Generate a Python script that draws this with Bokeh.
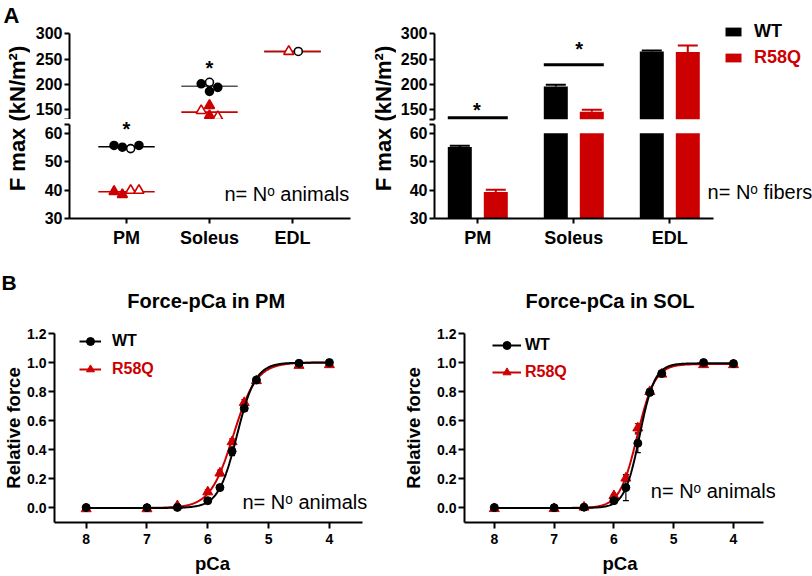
import numpy as np
from bokeh.plotting import figure
from bokeh.layouts import row, column
from bokeh.models import (Range1d, Label, Legend, LegendItem, Whisker, ColumnDataSource,
                          FixedTicker, TeeHead, PrintfTickFormatter)
from bokeh.embed import file_html
from bokeh.resources import INLINE

FONT = "Liberation Sans"
RED = "#cc0000"
BLACK = "#000000"
GREY = "#555555"

# ---------------- data ----------------
muscles = ["PM", "Soleus", "EDL"]

# Panel A left: F max per animal (kN/m^2); open = open symbol
pm_wt_animals = [55.7, 55.1, 54.6, 55.7]
pm_wt_open = [0, 0, 1, 0]
pm_r58q_animals = [39.5, 38.4, 39.9, 39.9]
pm_r58q_open = [0, 0, 1, 1]
sol_wt_animals = [201, 204, 186, 194]
sol_wt_open = [0, 1, 0, 0]
sol_r58q_animals = [148, 158, 138, 136]
sol_r58q_open = [1, 0, 0, 1]
edl_wt_animals = [265]
edl_wt_open = [1]
edl_r58q_animals = [265]
edl_r58q_open = [1]

# Panel A right: F max per fibre, mean and SEM
wt_fiber_mean = [55.2, 195.6, 265.0]
wt_fiber_sem = [0.4, 3.5, 2.0]
r58q_fiber_mean = [39.3, 145.5, 264.0]
r58q_fiber_sem = [0.8, 4.0, 13.0]
sig_bracket_level = [134.0, 238.6]   # PM, Soleus

# Panel B: force-pCa
pca = [8.0, 7.0, 6.5, 6.0, 5.8, 5.6, 5.4, 5.2, 4.5, 4.0]
pm_wt_force = [0.003, 0.002, 0.004, 0.05, 0.14, 0.39, 0.685, 0.88, 0.995, 1.0]
pm_wt_sem = [0.004, 0.004, 0.004, 0.01, 0.015, 0.03, 0.02, 0.01, 0.004, 0.004]
pm_r58q_force = [-0.006, -0.006, 0.015, 0.11, 0.24, 0.455, 0.725, 0.875, 0.98, 0.985]
pm_r58q_sem = [0.004, 0.004, 0.006, 0.015, 0.02, 0.02, 0.02, 0.01, 0.004, 0.004]
sol_wt_force = [0.003, 0.002, 0.005, 0.05, 0.14, 0.445, 0.795, 0.925, 1.0, 0.993]
sol_wt_sem = [0.004, 0.004, 0.004, 0.01, 0.09, 0.065, 0.02, 0.01, 0.004, 0.004]
sol_r58q_force = [-0.005, -0.005, 0.005, 0.084, 0.205, 0.55, 0.80, 0.92, 0.985, 0.985]
sol_r58q_sem = [0.004, 0.004, 0.004, 0.01, 0.02, 0.03, 0.02, 0.01, 0.004, 0.004]

# Hill fit parameters: (pCa50, nH, max)
pm_wt_fit = (5.52, 2.84, 1.0)
pm_r58q_fit = (5.58, 2.28, 1.0)
sol_wt_fit = (5.57, 3.45, 0.995)
sol_r58q_fit = (5.61, 2.95, 0.99)

# ---------------- layout constants ----------------
JIT = 0.1
pm_slots = [-1.5, -0.5, 0.5, 1.5]
sol_slots = [-1, 0, 0, 1]
edl_wt_slots = [0.7]
edl_r58q_slots = [-0.45]
MEAN_HALF = 0.34
BAR_W = 0.25
BAR_OFF = 0.1875
UPPER_START = 131.0
LOWER_END = 60.0
LOWER_AXIS_END = 63.0
UP_RANGE_L = (130.3, 330.3)
LO_RANGE_L = (30.0, 64.84)
UP_RANGE_R = (122.4, 330.3)
LO_RANGE_R = (30.0, 63.45)


def base_fig(w, h, xr, yr, ml, mr, mt, mb, xaxis=True, yaxis=True):
    p = figure(width=w, height=h, x_range=xr, y_range=yr, output_backend="svg",
               toolbar_location=None,
               x_axis_type="linear" if xaxis else None,
               y_axis_type="linear" if yaxis else None,
               min_border_left=ml, min_border_right=mr, min_border_top=mt, min_border_bottom=mb)
    p.xgrid.visible = False
    p.ygrid.visible = False
    p.outline_line_color = None
    for ax in list(p.xaxis) + list(p.yaxis):
        ax.axis_line_width = 2
        ax.axis_line_color = BLACK
        ax.major_tick_line_width = 2
        ax.major_tick_line_color = BLACK
        ax.major_tick_out = 5
        ax.major_tick_in = 0
        ax.minor_tick_out = 0
        ax.minor_tick_in = 0
        ax.major_label_text_font = FONT
        ax.major_label_text_font_style = "bold"
        ax.major_label_text_color = BLACK
        ax.axis_label_text_font = FONT
        ax.axis_label_text_font_style = "bold"
        ax.axis_label_text_color = BLACK
        ax.major_label_standoff = 2
    return p


def label_fig(w, h):
    p = figure(width=w, height=h, x_range=Range1d(0, w), y_range=Range1d(h, 0),
               x_axis_type=None, y_axis_type=None, min_border=0,
               toolbar_location=None, output_backend="svg")
    p.outline_line_color = None
    return p


def style_a_yaxis(p, ticks, bounds, blank):
    ax = p.yaxis[0]
    ax.ticker = FixedTicker(ticks=ticks)
    ax.bounds = bounds
    ax.major_label_overrides = {blank: " "}
    ax.major_label_text_font_size = "16px"


def style_a_xaxis(p):
    ax = p.xaxis[0]
    ax.ticker = FixedTicker(ticks=[1, 2, 3])
    ax.major_label_overrides = {i + 1: m for i, m in enumerate(muscles)}
    ax.major_label_text_font_size = "18px"
    ax.major_label_standoff = 4


def txt(p, x, y, text, size, color=BLACK, bold=True, align="left", baseline="middle", angle=0):
    p.add_layout(Label(x=x, y=y, text=text, text_font=FONT, text_font_size=size,
                       text_font_style="bold" if bold else "normal", text_color=color,
                       text_align=align, text_baseline=baseline, angle=angle))


# ---------------- Panel A left ----------------
AL_X = Range1d(0.313, 3.699)
AL_up = base_fig(338, 119, AL_X, Range1d(*UP_RANGE_L), 39, 18, 18, 0, xaxis=False)
AL_lo = base_fig(338, 131, AL_X, Range1d(*LO_RANGE_L), 39, 18, 0, 31)
style_a_yaxis(AL_up, [UPPER_START, 150, 200, 250, 300], (UPPER_START, 300), UPPER_START)
style_a_yaxis(AL_lo, [30, 40, 50, 60, LOWER_AXIS_END], (30, LOWER_AXIS_END), LOWER_AXIS_END)
style_a_xaxis(AL_lo)

groups = [
    (1, pm_wt_animals, pm_wt_open, pm_slots, BLACK, "circle", BLACK),
    (2, sol_wt_animals, sol_wt_open, sol_slots, BLACK, "circle", GREY),
    (3, edl_wt_animals, edl_wt_open, edl_wt_slots, BLACK, "circle", BLACK),
    (1, pm_r58q_animals, pm_r58q_open, pm_slots, RED, "triangle", RED),
    (2, sol_r58q_animals, sol_r58q_open, sol_slots, RED, "triangle", RED),
    (3, edl_r58q_animals, edl_r58q_open, edl_r58q_slots, RED, "triangle", RED),
]
for p in (AL_up, AL_lo):
    for idx, vals, opn, slots, col, mk, lcol in groups:
        m = float(np.mean(vals))
        p.segment(x0=[idx - MEAN_HALF], x1=[idx + MEAN_HALF], y0=[m], y1=[m],
                  line_color=lcol, line_width=1.6)
    for idx, vals, opn, slots, col, mk, lcol in groups:
        xs = [idx + s * JIT for s in slots]
        fills = ["white" if o else col for o in opn]
        p.scatter(x=xs, y=vals, marker=mk, size=8 if mk == "circle" else 10,
                  fill_color=fills, line_color=col, line_width=1.6)

txt(AL_lo, 1, 61.6, "*", "20px", align="center")
txt(AL_up, 2, 232.7, "*", "20px", align="center")
txt(AL_lo, 2.18, 38.7, "n= N\u1d52 animals", "20px", bold=False)

# ---------------- Panel A right ----------------
AR_X = Range1d(0.549, 0.549 + 378 / 96)
AR_up = base_fig(416, 123, AR_X, Range1d(*UP_RANGE_R), 38, 0, 18, 0, xaxis=False)
AR_lo = base_fig(416, 127, AR_X, Range1d(*LO_RANGE_R), 38, 0, 0, 31)
style_a_yaxis(AR_up, [UPPER_START, 150, 200, 250, 300], (UPPER_START, 300), UPPER_START)
style_a_yaxis(AR_lo, [30, 40, 50, 60, LOWER_AXIS_END], (30, LOWER_AXIS_END), LOWER_AXIS_END)
style_a_xaxis(AR_lo)
AR_lo.xaxis[0].bounds = (0.549, 0.549 + 279 / 96)

xi = np.arange(1, 4)
wt_m = np.array(wt_fiber_mean); wt_s = np.array(wt_fiber_sem)
mu_m = np.array(r58q_fiber_mean); mu_s = np.array(r58q_fiber_sem)

bar_r = {}
for name, off, mean, sem, col in (("WT", -BAR_OFF, wt_m, wt_s, BLACK), ("R58Q", BAR_OFF, mu_m, mu_s, RED)):
    # lower segment: bars cut at the break
    AR_lo.vbar(x=xi + off, top=np.minimum(mean, LOWER_END), bottom=0, width=BAR_W,
               fill_color=col, line_color=None)
    low = mean < LOWER_END
    AR_lo.add_layout(Whisker(source=ColumnDataSource(dict(b=(xi + off)[low], lo=mean[low], up=(mean + sem)[low])),
                             base="b", lower="lo", upper="up", dimension="height",
                             line_color=col, line_width=2, lower_head=None,
                             upper_head=TeeHead(size=20, line_color=col, line_width=2)))
    hi = mean > UPPER_START
    bar_r[name] = AR_up.vbar(x=(xi + off)[hi], top=mean[hi], bottom=UPPER_START, width=BAR_W,
                             fill_color=col, line_color=None)
    AR_up.add_layout(Whisker(source=ColumnDataSource(dict(b=(xi + off)[hi], lo=mean[hi], up=(mean + sem)[hi])),
                             base="b", lower="lo", upper="up", dimension="height",
                             line_color=col, line_width=2, lower_head=None,
                             upper_head=TeeHead(size=20, line_color=col, line_width=2)))

# significance brackets (PM, Soleus)
half = BAR_OFF + BAR_W / 2
AR_up.segment(x0=xi[:2] - half, x1=xi[:2] + half, y0=sig_bracket_level, y1=sig_bracket_level,
              line_color=BLACK, line_width=3)
txt(AR_up, 0.99, 148.9, "*", "20px", align="center")
txt(AR_up, 2.056, 269.7, "*", "20px", align="center")
txt(AR_lo, 3.393, 39.4, "n= N\u1d52 fibers", "20px", bold=False)

# legend: bottom-left corner of each entry, measured from the frame's bottom-left
for name, col, ybot in (("WT", BLACK, 81.3), ("R58Q", RED, 54.7)):
    lg = Legend(items=[LegendItem(label=name, renderers=[bar_r[name]])], location=(289, ybot),
                label_text_font=FONT, label_text_font_style="bold", label_text_font_size="18px",
                label_text_color=col, glyph_width=20, glyph_height=11, label_height=20,
                label_standoff=11, padding=0, margin=0, spacing=0,
                border_line_color=None, background_fill_alpha=0)
    AR_up.add_layout(lg)

# label columns for panel A
LA = label_fig(30, 250)
txt(LA, 3, 14.5, "A", "22px")
txt(LA, 17, 118, "F max (kN/m\u00b2)", "22px", align="center", angle=np.pi / 2)
LR = label_fig(28, 250)
txt(LR, 15, 118, "F max (kN/m\u00b2)", "22px", align="center", angle=np.pi / 2)

# ---------------- Panel B ----------------
STRIP = label_fig(812, 62)
txt(STRIP, 1, 31.5, "B", "21px")
txt(STRIP, 205.7, 50, "Force-pCa in PM", "20px", align="center")
txt(STRIP, 609.5, 50, "Force-pCa in SOL", "20px", align="center")


def hill(x, fit):
    p50, nh, top = fit
    return top / (1 + 10 ** (nh * (np.asarray(x) - p50)))


def b_panel(w, ml, mr, xr, xbounds, wt, wts, wtfit, mu, mus, mufit, leg_x, leg_y, leg_w, leg_gap, n_xy):
    p = base_fig(w, 264, xr, Range1d(-0.1, 1.2), ml, mr, 21, 52)
    p.xaxis.ticker = FixedTicker(ticks=[8, 7, 6, 5, 4])
    p.xaxis.bounds = xbounds
    p.yaxis.ticker = FixedTicker(ticks=[0.0, 0.2, 0.4, 0.6, 0.8, 1.0, 1.2])
    p.yaxis.formatter = PrintfTickFormatter(format="%.1f")
    p.xaxis.major_label_text_font_size = "14px"
    p.yaxis.major_label_text_font_size = "14px"
    p.xaxis.major_tick_out = 6
    p.yaxis.major_tick_out = 6
    p.xaxis.major_label_standoff = 5
    p.yaxis.major_label_standoff = 2
    p.xaxis.axis_label = "pCa"
    p.yaxis.axis_label = "Relative force"
    p.xaxis.axis_label_text_font_size = "18.5px"
    p.yaxis.axis_label_text_font_size = "18.5px"
    p.xaxis.axis_label_standoff = 6
    p.yaxis.axis_label_standoff = 0
    xs = np.linspace(pca[0], pca[-1], 300)
    rends = {}
    for name, f, s, fit, col, mk, sz in (("R58Q", mu, mus, mufit, RED, "triangle", 10),
                                          ("WT", wt, wts, wtfit, BLACK, "circle", 8)):
        ln = p.line(xs, hill(xs, fit), line_color=col, line_width=2)
        f = np.array(f); s = np.array(s)
        p.add_layout(Whisker(source=ColumnDataSource(dict(b=pca, lo=f - s, up=f + s)),
                             base="b", lower="lo", upper="up", dimension="height",
                             line_color=col, line_width=1.2,
                             lower_head=TeeHead(size=6, line_color=col, line_width=1.2),
                             upper_head=TeeHead(size=6, line_color=col, line_width=1.2)))
        sc = p.scatter(pca, f, marker=mk, size=sz, fill_color=col, line_color=col)
        rends[name] = [ln, sc]
    for name, col, yb in (("WT", BLACK, leg_y[0]), ("R58Q", RED, leg_y[1])):
        lg = Legend(items=[LegendItem(label=name, renderers=rends[name])], location=(leg_x, yb),
                    label_text_font=FONT, label_text_font_style="bold", label_text_font_size="16px",
                    label_text_color=col, glyph_width=leg_w, glyph_height=20, label_height=20,
                    label_standoff=leg_gap, padding=0, margin=0, spacing=0,
                    border_line_color=None, background_fill_alpha=0)
        p.add_layout(lg)
    txt(p, n_xy[0], n_xy[1], "n= N\u1d52 animals", "20px", bold=False)
    return p


BL = b_panel(400, 54, 30, Range1d(8.521, 8.521 - 316 / 60.8), (3.46, 8.521),
             pm_wt_force, pm_wt_sem, pm_wt_fit, pm_r58q_force, pm_r58q_sem, pm_r58q_fit,
             25, (170.6, 143.4), 22, 11, (5.429, 0.043))
BR = b_panel(412, 59, 37, Range1d(8.499, 8.499 - 316 / 60.75), (3.5, 8.499),
             sol_wt_force, sol_wt_sem, sol_wt_fit, sol_r58q_force, sol_r58q_sem, sol_r58q_fit,
             28, (167.4, 139.9), 29, 4, (5.383, 0.12))
BR.yaxis.axis_label_standoff = 10

layout = column(row(LA, column(AL_up, AL_lo), LR, column(AR_up, AR_lo)),
                STRIP, row(BL, BR))
open("out.html", "w").write(file_html(layout, INLINE))
